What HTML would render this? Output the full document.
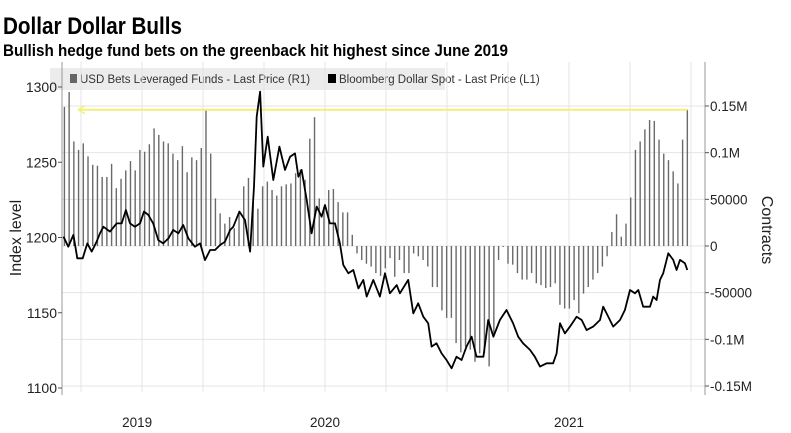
<!DOCTYPE html>
<html><head><meta charset="utf-8">
<style>
body{margin:0;background:#fff;width:791px;height:433px;overflow:hidden;font-family:"Liberation Sans",sans-serif}
svg{display:block}
</style></head>
<body>
<svg id="chart" width="791" height="433" xmlns="http://www.w3.org/2000/svg" font-family="Liberation Sans, sans-serif">
<text x="3" y="34" font-size="24" font-weight="bold" textLength="179" lengthAdjust="spacingAndGlyphs">Dollar Dollar Bulls</text>
<text x="3" y="56" font-size="17" font-weight="bold" textLength="505" lengthAdjust="spacingAndGlyphs">Bullish hedge fund bets on the greenback hit highest since June 2019</text>
<rect x="50" y="68" width="395" height="22" fill="#ececec"/>
<rect x="70" y="74" width="7" height="9" fill="#666"/>
<text x="80" y="83" font-size="11.5" fill="#333">USD Bets Leveraged Funds - Last Price (R1)</text>
<rect x="328" y="74" width="8" height="9" fill="#000"/>
<text x="339" y="83" font-size="11.5" fill="#333">Bloomberg Dollar Spot - Last Price (L1)</text>
<g id="grid"></g>
<g id="bars"></g>
<g id="hl"></g>
<path id="spot" fill="none" stroke="#000" stroke-width="1.8" stroke-linejoin="round"/>
<g id="axes"></g>
<text transform="translate(21,238) rotate(-90)" text-anchor="middle" font-size="16" fill="#222">Index level</text>
<text transform="translate(762,230) rotate(90)" text-anchor="middle" font-size="16" fill="#222">Contracts</text>
</svg>
<script>
const leftTicks=[1100,1150,1200,1250,1300];
const rightTicks=[-150,-100,-50,0,50,100,150];
const rightTickLabels=["-0.15M","-0.1M","-50000","0","50000","0.1M","0.15M"];
const yearLabels=["2019","2020","2021"];
const yearLabelDates=[2019.23,2020.0,2021.0];
const quarterLines=[2019,2019.25,2019.5,2019.75,2020,2020.25,2020.5,2020.75,2021,2021.25,2021.5];
const barStart=2018.932, barEnd=2021.485;
const betValues=[149,165,112,103,110,96,87,86,74,74,88,62,72,81,91,81,103,101,109,126,119,112,110,99,92,107,79,95,92,105,146,99,51,35,24,31,19,37,64,73,53,40,64,69,60,54,64,66,67,78,82,71,115,138,51,42,60,61,47,36,36,12,-8,-15,-19,-22,-29,-32,-24,-13,-33,-15,-29,-29,-8,-11,-15,-22,-44,-44,-69,-77,-77,-104,-114,-108,-111,-124,-115,-115,-129,-94,-15,-1,-19,-20,-29,-36,-36,-29,-40,-42,-45,-44,-40,-63,-67,-67,-58,-72,-51,-44,-36,-29,-22,-11,15,34,10,24,52,103,112,125,135,134,114,99,92,80,67,114,146];
const spotDates=[2018.928,2018.948,2018.969,2018.985,2019.007,2019.026,2019.044,2019.064,2019.078,2019.092,2019.119,2019.146,2019.167,2019.184,2019.201,2019.221,2019.242,2019.258,2019.276,2019.296,2019.317,2019.337,2019.358,2019.378,2019.399,2019.419,2019.440,2019.467,2019.488,2019.508,2019.529,2019.549,2019.570,2019.590,2019.611,2019.624,2019.649,2019.672,2019.693,2019.709,2019.720,2019.734,2019.747,2019.765,2019.788,2019.813,2019.836,2019.857,2019.877,2019.891,2019.904,2019.925,2019.945,2019.966,2019.986,2020.000,2020.020,2020.041,2020.061,2020.075,2020.096,2020.116,2020.137,2020.157,2020.171,2020.198,2020.225,2020.246,2020.266,2020.294,2020.307,2020.341,2020.362,2020.382,2020.403,2020.423,2020.437,2020.457,2020.478,2020.498,2020.519,2020.539,2020.560,2020.580,2020.601,2020.621,2020.649,2020.669,2020.690,2020.717,2020.744,2020.771,2020.792,2020.812,2020.840,2020.860,2020.881,2020.908,2020.935,2020.949,2020.963,2020.983,2021.004,2021.031,2021.052,2021.072,2021.099,2021.127,2021.140,2021.154,2021.181,2021.209,2021.229,2021.250,2021.270,2021.284,2021.304,2021.332,2021.345,2021.359,2021.373,2021.386,2021.407,2021.427,2021.441,2021.455,2021.475,2021.485];
const spotValues=[1200.6,1193.9,1201.7,1186.2,1186.2,1196.1,1190.6,1197.2,1202.8,1207.2,1203.9,1209.4,1209.4,1218.3,1209.4,1207.2,1209.4,1217.2,1215.0,1209.4,1198.3,1196.1,1199.4,1205.0,1202.8,1208.3,1199.4,1193.9,1196.1,1185.0,1191.7,1191.7,1195.0,1197.2,1205.0,1207.2,1217.2,1211.6,1190.6,1233.8,1280.3,1296.9,1247.1,1267.0,1238.2,1260.4,1244.9,1253.7,1255.9,1240.4,1244.9,1224.9,1202.8,1220.5,1213.8,1221.6,1209.4,1209.4,1196.1,1181.7,1176.2,1178.4,1166.2,1171.8,1160.7,1171.8,1160.7,1176.2,1162.9,1168.4,1162.9,1171.8,1149.6,1156.3,1147.4,1143.0,1127.5,1129.7,1123.0,1118.6,1113.1,1120.8,1118.6,1127.5,1134.1,1120.8,1120.8,1145.2,1134.1,1145.2,1151.8,1143.0,1134.1,1129.7,1125.3,1120.8,1114.2,1116.4,1116.4,1123.0,1143.0,1136.3,1140.8,1147.4,1145.2,1138.5,1140.8,1145.2,1154.0,1149.6,1140.8,1145.2,1151.8,1165.1,1162.9,1165.1,1154.0,1154.0,1160.7,1158.5,1171.8,1176.2,1189.5,1185.1,1178.4,1185.1,1182.9,1178.4];
const highlightValue=146;

const NS="http://www.w3.org/2000/svg";
const X0=62,X1=705;
const xOf=t=>325+(t-2020)*244;
const yL=v=>87+(1300-v)*1.505;
const yR=v=>246-v*(140/150);
function mk(tag,attrs,parent){const e=document.createElementNS(NS,tag);for(const k in attrs)e.setAttribute(k,attrs[k]);parent.appendChild(e);return e;}
const grid=document.getElementById('grid'),bars=document.getElementById('bars'),axes=document.getElementById('axes'),hl=document.getElementById('hl');
quarterLines.forEach(q=>{const l=mk('line',{x1:xOf(q),x2:xOf(q),y1:62,y2:392,stroke:'#e4e4e4','stroke-width':1},grid);

});
rightTicks.forEach(v=>{const l=mk('line',{x1:X0,x2:X1,y1:yR(v),y2:yR(v),stroke:'#e4e4e4','stroke-width':1},grid);

});
const step=(barEnd-barStart)/(betValues.length-1);
betValues.forEach((v,i)=>{const x=xOf(barStart+i*step);const y0=yR(0),y1=yR(v);
const r=mk('rect',{x:x-0.7,y:Math.min(y0,y1),width:1.4,height:Math.max(0.5,Math.abs(y1-y0)),fill:'#6a6a6a'},bars);

});
const hy=yR(highlightValue);
const hline=mk('line',{x1:80,x2:xOf(barEnd),y1:hy,y2:hy,stroke:'#f3f07a','stroke-width':2},hl);


const arr=mk('path',{d:`M78 ${hy} l7 -4 M78 ${hy} l7 4`,stroke:'#f3f07a','stroke-width':1.5,fill:'none'},hl);


document.getElementById('spot').setAttribute('d',spotDates.map((t,i)=>(i?'L':'M')+xOf(t).toFixed(1)+' '+yL(spotValues[i]).toFixed(1)).join(' '));
const la=mk('line',{x1:X0,x2:X0,y1:62,y2:395,stroke:'#999','stroke-width':1},axes);


const ra=mk('line',{x1:X1,x2:X1,y1:62,y2:395,stroke:'#999','stroke-width':1},axes);


leftTicks.forEach(v=>{const y=yL(v);mk('line',{x1:X0-4,x2:X0,y1:y,y2:y,stroke:'#555'},axes);
const t=mk('text',{x:X0-5,y:y+5,'text-anchor':'end','font-size':14,fill:'#222'},axes);t.textContent=v;

});
rightTicks.forEach((v,i)=>{const y=yR(v);mk('line',{x1:X1,x2:X1+4,y1:y,y2:y,stroke:'#555'},axes);
const t=mk('text',{x:X1+5,y:y+5,'font-size':13.5,fill:'#222'},axes);t.textContent=rightTickLabels[i];

});
yearLabels.forEach((s,i)=>{const t=mk('text',{x:xOf(yearLabelDates[i]),y:427,'text-anchor':'middle','font-size':13.5,fill:'#222'},axes);t.textContent=s;

});
</script>
</body></html>
